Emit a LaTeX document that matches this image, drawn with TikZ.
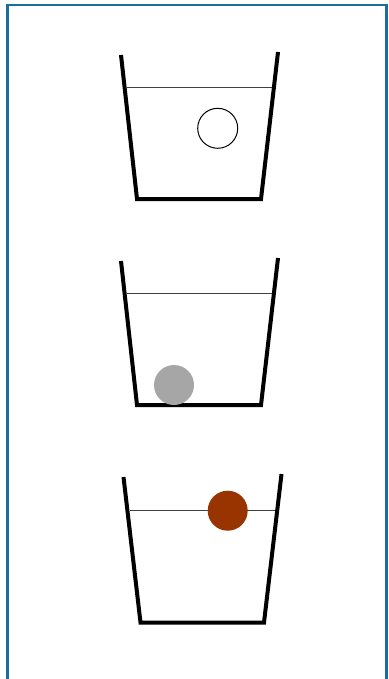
\documentclass[tikz,border=0pt]{standalone}
\usepackage{xcolor}
\usepackage{tikz}
\usetikzlibrary{positioning,calc}
\definecolor{framecol}{RGB}{26,110,155}
\definecolor{sunkgray}{RGB}{166,166,166}
\definecolor{floatbrown}{RGB}{153,51,0}

\begin{document}
\begin{tikzpicture}[
    x=1pt, y=-1pt,
    frame/.style={draw=framecol, line width=2.5pt},
    glass/.style={draw=black, line width=4pt, line join=miter},
    water/.style={draw=black!75, line width=1pt},
    ball/.style={circle, minimum size=40pt, inner sep=0pt, outer sep=0pt}
]
\useasboundingbox (0,0) rectangle (388,679);
\draw[frame] (7.5,690) -- (7.5,5) -- (386.5,5) -- (386.5,690);

% top glass, empty ball
\draw[water] (126.5,87.5) -- (272.5,87.5);
\draw[glass] (121,55) -- (137,199) -- (261,199) -- (278,52);
\node[ball, draw=black, line width=1pt] (hollow) at (217.7,128.3) {};

% middle glass, sunk ball
\draw[water] (126.5,293.5) -- (272.5,293.5);
\draw[glass] (121,261) -- (137,405) -- (261,405) -- (278,258);
\node[ball, fill=sunkgray] (sunk) at (174,385) {};

% bottom glass, floating ball
\draw[water] (130,510) -- (275.5,510);
\draw[glass] (123.5,477) -- (140.5,622.5) -- (264,622.5) -- (281.5,474);
\node[ball, fill=floatbrown] (floating) at (227.7,510.7) {};
\end{tikzpicture}
\end{document}
